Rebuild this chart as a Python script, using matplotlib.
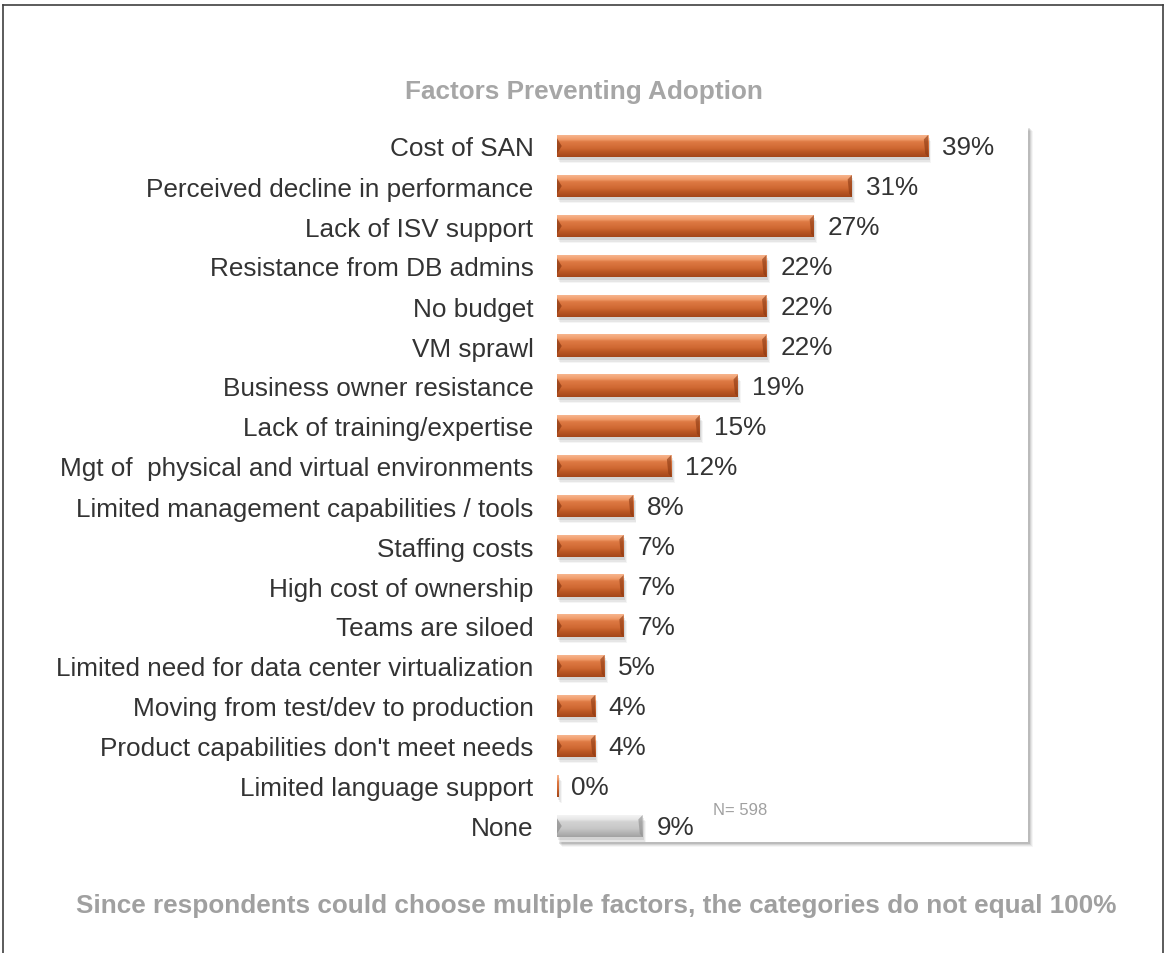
import matplotlib.pyplot as plt
import numpy as np
from matplotlib.colors import LinearSegmentedColormap
from matplotlib.patches import Rectangle, Polygon
from matplotlib.lines import Line2D

# Balkendiagramm "Factors Preventing Adoption" mit 3D-artigen Balken

factors = [
    "Cost of SAN",
    "Perceived decline in performance",
    "Lack of ISV support",
    "Resistance from DB admins",
    "No budget",
    "VM sprawl",
    "Business owner resistance",
    "Lack of training/expertise",
    "Mgt of  physical and virtual environments",
    "Limited management capabilities / tools",
    "Staffing costs",
    "High cost of ownership",
    "Teams are siloed",
    "Limited need for data center virtualization",
    "Moving from test/dev to production",
    "Product capabilities don't meet needs",
    "Limited language support",
    "None",
]
percent = [39, 31, 27, 22, 22, 22, 19, 15, 12, 8, 7, 7, 7, 5, 4, 4, 0, 9]
is_none = [False] * 17 + [True]

plt.rcParams['font.family'] = ['Liberation Sans', 'DejaVu Sans']
fs = 18.8

W, H = 1166, 954
fig = plt.figure(figsize=(W / 100, H / 100), dpi=100)
fig.patch.set_facecolor("white")

# Achsenbereich (Pixelwerte -> Figurkoordinaten)
x0, x1, y0, y1 = 557, 1028, 127, 843
ax = fig.add_axes([x0 / W, 1 - y1 / H, (x1 - x0) / W, (y1 - y0) / H])
ax.set_facecolor("white")
ax.set_zorder(2)

# Schatten hinter der Box
for i, a in enumerate([0.04, 0.06, 0.08, 0.11]):
    off = 5 - i
    fig.patches.append(Rectangle(((x0 + off) / W, 1 - (y1 + off) / H),
                                 (x1 - x0) / W, (y1 - y0) / H,
                                 transform=fig.transFigure, facecolor="black",
                                 alpha=a, edgecolor="none", zorder=0))

orange = LinearSegmentedColormap.from_list("orange", [
    (0.0, "#f7b58e"), (0.2, "#f09a68"), (0.3, "#de7a44"),
    (0.6, "#cf6832"), (0.75, "#bc5824"), (1.0, "#a3461a")])
grey = LinearSegmentedColormap.from_list("grey", [
    (0.0, "#f4f4f4"), (0.2, "#e6e6e6"), (0.3, "#d2d2d2"),
    (0.6, "#c8c8c8"), (0.75, "#bababa"), (1.0, "#a2a2a2")])

grad = np.linspace(0, 1, 64).reshape(-1, 1)
h = 0.275
ys = np.arange(len(factors))

for y, v, n in zip(ys, percent, is_none):
    cmap = grey if n else orange
    w = max(v, 0.2)
    # weicher Schatten unter dem Balken
    for k, a in enumerate([0.04, 0.06, 0.08]):
        d = 0.16 - 0.04 * k
        ax.add_patch(Rectangle((0.15 + 0.1 * (2 - k), y - h + d), w, 2 * h,
                               facecolor="black", alpha=a, edgecolor="none", zorder=1))
    ax.imshow(grad, cmap=cmap, aspect="auto", extent=(0, w, y + h, y - h),
              interpolation="bilinear", zorder=2)
    if v > 0:
        # abgeschrägte Enden
        end = min(0.5, w * 0.3)
        dark = "#8c8c8c" if n else "#8a3812"
        ax.add_patch(Polygon([(0, y - h * 0.7), (end, y), (0, y + h * 0.7)], closed=True,
                             facecolor=dark, alpha=0.7, edgecolor="none", zorder=3))
        ax.add_patch(Polygon([(w - 0.45, y - h * 0.6), (w, y - h), (w, y + h),
                              (w - 0.3, y + h * 0.7)], closed=True,
                             facecolor=dark, alpha=0.6, edgecolor="none", zorder=3))
    ax.text(v + 1.45, y + 0.03, f"{v}%", va="center", ha="left",
            fontsize=fs, color="#333333", zorder=4)

ax.text(16.4, 16.6, "N= 598", fontsize=12, color="#a0a0a0", va="center", ha="left")

ax.set_xlim(0, 49.5)
ax.set_ylim(17.4, -0.5)
ax.set_yticks(ys)
ax.set_yticklabels(factors, fontsize=fs, color="#333333")
ax.tick_params(axis="y", length=0, pad=17)
ax.set_xticks([])
for s in ax.spines.values():
    s.set_visible(False)

fig.text(584 / W, 1 - 92 / H, "Factors Preventing Adoption", ha="center", va="center",
         fontsize=fs, fontweight="bold", color="#a6a6a6")
fig.text(596.5 / W, 1 - 906 / H,
         "Since respondents could choose multiple factors, the categories do not equal 100%",
         ha="center", va="center", fontsize=fs, fontweight="bold", color="#a0a0a0")

# Rahmen oben, links, rechts
px = lambda x, y: (x / W, 1 - y / H)
for (xa, ya), (xb, yb) in [(px(3, 6), px(1163, 6)), (px(3, 6), px(3, 954)),
                           (px(1163, 6), px(1163, 954))]:
    fig.add_artist(Line2D([xa, xb], [ya, yb], transform=fig.transFigure,
                          color="#404040", linewidth=1.2))

fig.savefig("out.png", dpi=100)
